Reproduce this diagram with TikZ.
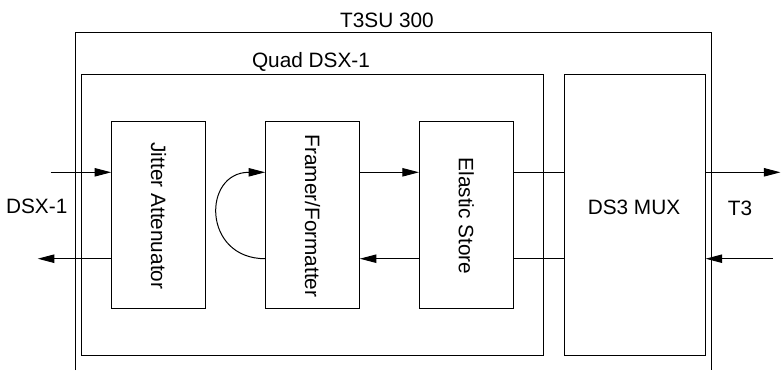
\documentclass[tikz,border=0pt]{standalone}
\usepackage{fontspec}
\setmainfont{Liberation Sans}
\usetikzlibrary{arrows.meta}

\tikzset{
  blk/.style={draw, line width=0.5pt, inner sep=0pt},
  unit/.style={blk, minimum width=46.8pt, minimum height=93.3pt},
  sig/.style={line width=0.5pt, -{Triangle[length=8.3pt,width=4.2pt]}},
  wire/.style={line width=0.5pt},
  lbl/.style={inner sep=0pt, font=\fontsize{10.4}{12}\selectfont}
}

\begin{document}
\begin{tikzpicture}[x=0.5pt, y=-0.5pt]
        \useasboundingbox (0,0) rectangle (781,370);
        \draw [wire] (75.7,370) -- (75.7,32) -- (711.7,32) -- (711.7,370);
        \node [lbl] (t3su) at (387,20) {T3SU 300};
        \node [blk, minimum width=230.8pt, minimum height=140.2pt] (quad) at (312.5,214.9) {};
        \node [lbl] (quadlbl) at (311,62) {Quad DSX-1};
        \node [blk, minimum width=70.2pt, minimum height=140.2pt] (mux) at (634.9,214.9) {};
        \node [lbl] (muxlbl) at (634,207.5) {DS3 MUX};
        \node [unit] (jitter) at (158.5,215) {};
        \node [unit] (framer) at (312.5,215) {};
        \node [unit] (elastic) at (466.3,215) {};
        \node [lbl, rotate=-90] (jittertxt) at (158.5,216) {Jitter Attenuator};
        \node [lbl, rotate=-90] (framertxt) at (312.5,216) {Framer/Formatter};
        \node [lbl, rotate=-90] (elastictxt) at (466.3,216) {Elastic Store};
        \node [lbl] (dsx) at (36.7,206.7) {DSX-1};
        \node [lbl] (t3) at (740,208) {T3};
        \coordinate (hi) at (0,172.3);
        \coordinate (lo) at (0,258.7);
        \coordinate (dsxin) at (50.7,172.3);
        \coordinate (dsxout) at (37.7,258.7);
        \coordinate (t3out) at (780.5,172.3);
        \coordinate (t3in) at (773,258.7);
        \draw [sig] (dsxin) -- (jitter.west |- hi);
        \draw [sig] (jitter.west |- lo) -- (dsxout);
        \draw [sig] (framer.west |- lo) .. controls +(-63,0) and +(-63,0) .. (framer.west |- hi);
        \draw [sig] (framer.east |- hi) -- (elastic.west |- hi);
        \draw [sig] (elastic.west |- lo) -- (framer.east |- lo);
        \draw [wire] (elastic.east |- hi) -- (mux.west |- hi);
        \draw [wire] (elastic.east |- lo) -- (mux.west |- lo);
        \draw [sig] (mux.east |- hi) -- (t3out);
        \draw [sig] (t3in) -- (mux.east |- lo);
    \end{tikzpicture}
\end{document}
